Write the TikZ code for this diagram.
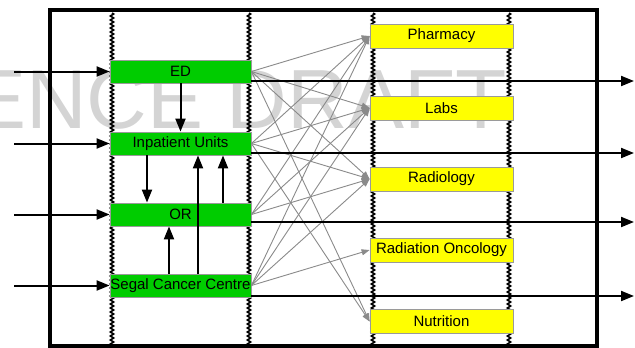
\documentclass[tikz,border=0pt]{standalone}
\usepackage{fontspec}
\setmainfont{Liberation Sans}
\usetikzlibrary{arrows.meta,decorations.pathmorphing}
\definecolor{gfill}{HTML}{00CC00}
\definecolor{yfill}{HTML}{FFFF00}
\definecolor{boxline}{HTML}{9A9A9A}
\definecolor{conn}{HTML}{8A8A8A}
\definecolor{wmark}{HTML}{D4D4D4}
\begin{document}
\begin{tikzpicture}[x=1pt,y=-1pt,
  gbox/.style={draw=boxline, line width=0.8pt, fill=gfill, minimum width=141pt, minimum height=23pt, inner sep=0pt, font=\fontsize{15}{18}\selectfont},
  ybox/.style={draw=boxline, line width=0.8pt, fill=yfill, minimum width=143pt, minimum height=24pt, inner sep=0pt, font=\fontsize{15}{18}\selectfont},
  zz/.style={line width=1.6pt, decorate, decoration={zigzag, segment length=4pt, amplitude=1.6pt}},
  arr/.style={line width=2pt, -{Triangle[length=13pt,width=10pt]}},
  gconn/.style={draw=conn, line width=0.9pt, -{Triangle[length=8pt,width=6pt]}}]
\useasboundingbox (0,0) rectangle (635,348);
% watermark
\begin{scope}
\clip (0,0) rectangle (635,348);
\node[anchor=base east, inner sep=0pt, text=wmark, font=\fontsize{84}{90}\selectfont] (wm) at (507,128) {REFERENCE DRAFT};
\end{scope}
% zigzag swimlane lines
\foreach \x in {112,249,373,509} \draw[zz] (\x,13) -- (\x,346);
% outer frame
\draw[line width=4pt] (50,10) rectangle (597,346);
% green boxes
\node[gbox] (ed) at (180.5,71.5) {ED};
\node[gbox] (ip) at (180.5,143.5) {Inpatient Units};
\node[gbox] (or) at (180.5,214.5) {OR};
\node[gbox] (sc) at (180.5,285.5) {Segal Cancer Centre};
% yellow boxes
\node[ybox] (ph) at (441.5,36) {Pharmacy};
\node[ybox] (lb) at (441.5,108) {Labs};
\node[ybox] (rd) at (441.5,179) {Radiology};
\node[ybox] (ro) at (441.5,250) {Radiation Oncology};
\node[ybox] (nu) at (441.5,321.5) {Nutrition};
% grey connectors
\foreach \s/\t in {ed/ph,ed/lb,ed/rd,ed/nu,ip/ph,ip/lb,ip/rd,ip/nu,or/ph,or/lb,or/rd,sc/ph,sc/lb,sc/rd,sc/ro}
  \draw[gconn] (\s.east) -- (\t.west);
% incoming arrows
\coordinate (inED) at (14,71.5);
\coordinate (inIP) at (14,143.5);
\coordinate (inOR) at (14,214.5);
\coordinate (inSC) at (14,285.5);
\draw[arr] (inED) -- (ed);
\draw[arr] (inIP) -- (ip);
\draw[arr] (inOR) -- (or);
\draw[arr] (inSC) -- (sc);
% outgoing arrows
\coordinate (outED) at (634,81);
\coordinate (outIP) at (634,153);
\coordinate (outOR) at (634,222);
\coordinate (outSC) at (634,296);
\draw[arr] (ed.east |- outED) -- (outED);
\draw[arr] (ip.east |- outIP) -- (outIP);
\draw[arr] (or.east |- outOR) -- (outOR);
\draw[arr] (sc.east |- outSC) -- (outSC);
% vertical arrows between green boxes
\draw[arr] (ed) -- (ip);
\draw[arr] ([xshift=-33.5pt]ip.south) -- ([xshift=-33.5pt]or.north);
\draw[arr] ([xshift=42.5pt]or.north) -- ([xshift=42.5pt]ip.south);
\draw[arr] ([xshift=17.5pt]sc.north) -- ([xshift=17.5pt]ip.south);
\draw[arr] ([xshift=-11.5pt]sc.north) -- ([xshift=-11.5pt]or.north |- or.south);
\end{tikzpicture}
\end{document}
